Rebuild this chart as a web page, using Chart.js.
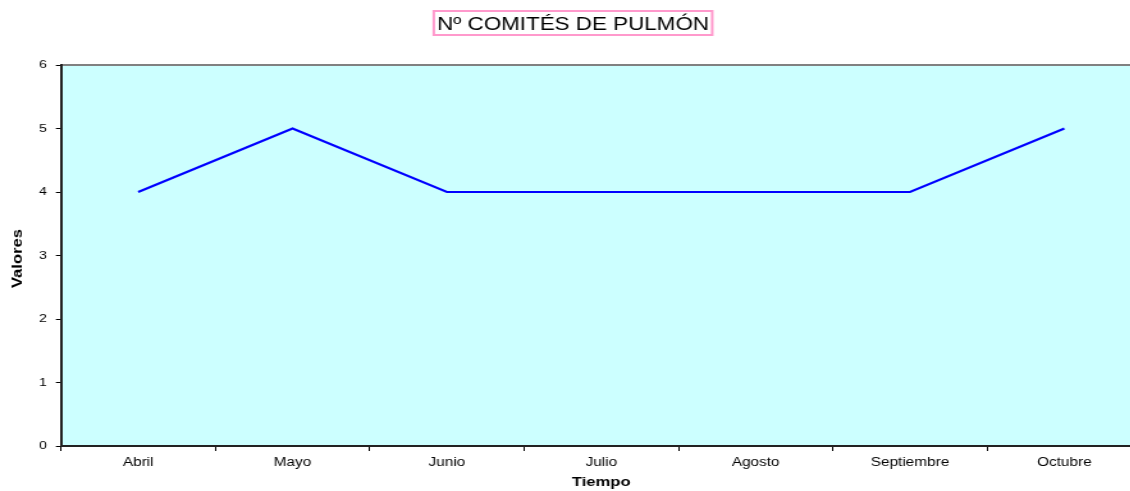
<!DOCTYPE html>
<html>
<head>
<meta charset="utf-8">
<script src="https://cdn.jsdelivr.net/npm/chart.js@4"></script>
<style>
  html, body { margin: 0; padding: 0; background: #fff; overflow: hidden; }
  /* el original tiene el texto ensanchado en horizontal */
  #wrap { width: 895px; height: 491px; transform: scaleX(1.28); transform-origin: 0 0; }
</style>
</head>
<body>
<div id="wrap"><canvas id="grafico" width="895" height="491"></canvas></div>
<script>
// === DATOS ===
const titulo = "Nº COMITÉS DE PULMÓN";
const meses = ["Abril", "Mayo", "Junio", "Julio", "Agosto", "Septiembre", "Octubre"];
const valores = [4, 5, 4, 4, 4, 4, 5];
const ejeX = "Tiempo";
const ejeY = "Valores";
const yMin = 0, yMax = 6, yPaso = 1;

const ESCALA = 1.28;
const FUENTE = "'Liberation Sans', Arial, sans-serif";

// fondo del área de trazado + borde superior gris
const fondo = {
  id: "fondo",
  beforeDraw(chart) {
    const { ctx, chartArea: a } = chart;
    ctx.save();
    ctx.fillStyle = "#ccffff";
    ctx.fillRect(a.left, a.top, a.right - a.left, a.bottom - a.top);
    ctx.strokeStyle = "#808080";
    ctx.lineWidth = 2;
    ctx.beginPath();
    ctx.moveTo(a.left, a.top);
    ctx.lineTo(a.right, a.top);
    ctx.stroke();
    ctx.restore();
  }
};

// título con recuadro rosa + rótulo vertical
const textos = {
  id: "textos",
  afterDraw(chart) {
    const ctx = chart.ctx;
    ctx.save();
    ctx.font = "17.5px " + FUENTE;
    ctx.fillStyle = "#000";
    ctx.textAlign = "center";
    ctx.textBaseline = "alphabetic";
    const cx = 573 / ESCALA;
    ctx.fillText(titulo, cx, 29.5);
    const w = ctx.measureText(titulo).width;
    ctx.strokeStyle = "#ff99cc";
    ctx.lineWidth = 2;
    ctx.strokeRect(cx - w / 2 - 2.5, 11, w + 5, 24);

    ctx.translate(18 / ESCALA, 258.5);
    ctx.rotate(-Math.PI / 2);
    ctx.scale(ESCALA, 1 / ESCALA);
    ctx.font = "bold 13px " + FUENTE;
    ctx.textBaseline = "middle";
    ctx.fillText(ejeY, 0, 0);
    ctx.restore();
  }
};

new Chart(document.getElementById("grafico"), {
  type: "line",
  data: {
    labels: meses,
    datasets: [{
      data: valores,
      borderColor: "#0000ff",
      borderWidth: 2,
      pointRadius: 0,
      tension: 0,
      fill: false
    }]
  },
  options: {
    responsive: false,
    animation: false,
    layout: { padding: { top: 65, right: 895 - 1141.5 / ESCALA, left: 0, bottom: 0 } },
    plugins: { legend: { display: false }, tooltip: { enabled: false }, title: { display: false } },
    scales: {
      x: {
        offset: true,
        afterFit: s => { s.height = 45; },
        grid: { offset: true, drawOnChartArea: false, tickLength: 5, color: "#000" },
        border: { color: "#222", width: 2 },
        ticks: { color: "#000", font: { family: FUENTE, size: 12 }, padding: 4, maxRotation: 0, autoSkip: false },
        title: { display: true, text: ejeX, color: "#000", font: { family: FUENTE, size: 13, weight: "bold" }, padding: { top: 0, bottom: 1 } }
      },
      y: {
        min: yMin,
        max: yMax,
        afterFit: s => { s.width = 61 / ESCALA; },
        grid: { drawOnChartArea: false, tickLength: 4, color: "#000" },
        border: { color: "#222", width: 2 },
        ticks: { stepSize: yPaso, color: "#000", font: { family: FUENTE, size: 11 }, padding: 7 }
      }
    }
  },
  plugins: [fondo, textos]
});
</script>
</body>
</html>
